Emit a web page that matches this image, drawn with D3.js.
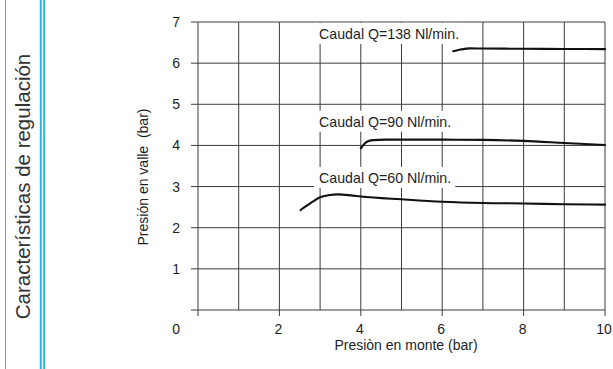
<!DOCTYPE html>
<html>
<head>
<meta charset="utf-8">
<script src="https://cdn.jsdelivr.net/npm/d3@7/dist/d3.min.js"></script>
<style>
  html, body { margin: 0; padding: 0; background: #fff; }
  svg { display: block; }
  text { font-family: "Liberation Sans", Arial, Helvetica, sans-serif; fill: #1e1e1e; }
</style>
</head>
<body>
<svg id="chart" width="613" height="369"></svg>
<script>
// Regulation characteristics: downstream pressure vs. upstream pressure
const sideTitle = "Características de regulación";
const xTitle = "Presiòn en monte (bar)";
const yTitle = "Presión en valle  (bar)";

const xTickLabels = [2, 4, 6, 8, 10];
const yTickLabels = [1, 2, 3, 4, 5, 6, 7];
const xGrid = [0, 1, 2, 3, 4, 5, 6, 7, 8, 9, 10];
const yGrid = [0, 1, 2, 3, 4, 5, 6, 7];

// Flow curves (upstream bar, downstream bar)
const q60X = [2.52, 2.8, 3.0, 3.2, 3.45, 3.8, 4.0, 5.0, 6.0, 7.0, 8.0, 9.0, 10.0];
const q60Y = [2.43, 2.62, 2.74, 2.79, 2.81, 2.78, 2.76, 2.69, 2.63, 2.60, 2.59, 2.57, 2.56];

const q90X = [4.0, 4.08, 4.15, 4.3, 4.6, 5.0, 6.0, 7.0, 8.0, 9.0, 10.0];
const q90Y = [3.93, 4.03, 4.09, 4.13, 4.14, 4.14, 4.14, 4.135, 4.11, 4.06, 4.01];

const q138X = [6.27, 6.45, 6.68, 7.0, 8.0, 9.0, 10.0];
const q138Y = [6.29, 6.33, 6.36, 6.355, 6.35, 6.345, 6.34];

const curveLabels = ["Caudal Q=138 Nl/min.", "Caudal Q=90 Nl/min.", "Caudal Q=60 Nl/min."];
const labelX = [3.0, 3.0, 3.0];
const labelY = [6.59, 4.455, 3.09];

const svg = d3.select("#chart");

// Side band with blue rules
const blue = "#2cb4e4";
svg.append("line").attr("x1", 5.5).attr("x2", 5.5).attr("y1", 0).attr("y2", 369)
  .attr("stroke", blue).attr("stroke-width", 1);
[40.8, 44.2].forEach(x => {
  svg.append("line").attr("x1", x).attr("x2", x).attr("y1", 0).attr("y2", 369)
    .attr("stroke", blue).attr("stroke-width", 2);
});
svg.append("text")
  .attr("transform", "translate(30,186.5) rotate(-90)")
  .attr("text-anchor", "middle")
  .style("font-size", "20.5px")
  .style("fill", "#333")
  .text(sideTitle);

// Scales
const x = d3.scaleLinear().domain([0, 10]).range([198, 605]);
const y = d3.scaleLinear().domain([0, 7]).range([310, 22]);

const gridColor = "#3c3c3c";
const grid = svg.append("g");

// Horizontal grid lines (extend a little left of the frame)
grid.selectAll("line.h").data(yGrid).join("line")
  .attr("class", "h")
  .attr("x1", x(0) - 7).attr("x2", x(10))
  .attr("y1", d => y(d)).attr("y2", d => y(d))
  .attr("stroke", gridColor).attr("stroke-width", 1);

// Vertical grid lines; labelled ones run down as ticks
grid.selectAll("line.v").data(xGrid).join("line")
  .attr("class", "v")
  .attr("x1", d => x(d)).attr("x2", d => x(d))
  .attr("y1", y(7))
  .attr("y2", d => (d % 2 === 0 ? y(0) + 6 : y(0)))
  .attr("stroke", gridColor).attr("stroke-width", 1);

// Curves
const line = d3.line().x(d => x(d[0])).y(d => y(d[1])).curve(d3.curveMonotoneX);
const series = [
  d3.zip(q138X, q138Y),
  d3.zip(q90X, q90Y),
  d3.zip(q60X, q60Y)
];

// Labels with white backing that interrupts the grid
const labelG = svg.append("g");
curveLabels.forEach((t, i) => {
  const g = labelG.append("g");
  const txt = g.append("text")
    .attr("x", x(labelX[i]) - 1)
    .attr("y", y(labelY[i]))
    .style("font-size", "14.2px")
    .text(t);
  const bb = txt.node().getBBox();
  g.insert("rect", "text")
    .attr("x", bb.x - 5).attr("y", y(labelY[i]) - 16)
    .attr("width", bb.width + 9).attr("height", 21)
    .attr("fill", "#fff");
});

svg.append("g").selectAll("path").data(series).join("path")
  .attr("d", line)
  .attr("fill", "none")
  .attr("stroke", "#111")
  .attr("stroke-width", 2.1)
  .attr("stroke-linecap", "round");

// Tick labels
svg.append("g").selectAll("text").data(yTickLabels).join("text")
  .attr("x", 180).attr("y", d => y(d) + 5)
  .attr("text-anchor", "end")
  .style("font-size", "14px")
  .text(d => d);

svg.append("g").selectAll("text").data(xTickLabels).join("text")
  .attr("x", d => x(d) - 1).attr("y", 334)
  .attr("text-anchor", "middle")
  .style("font-size", "14px")
  .text(d => d);

svg.append("text").attr("x", 180).attr("y", 334)
  .attr("text-anchor", "end").style("font-size", "14px").text(0);

// Axis titles
svg.append("text")
  .attr("x", 406).attr("y", 350)
  .attr("text-anchor", "middle")
  .style("font-size", "14px")
  .text(xTitle);

svg.append("text")
  .attr("transform", "translate(148,177) rotate(-90)")
  .attr("text-anchor", "middle")
  .style("font-size", "14px")
  .style("white-space", "pre")
  .text(yTitle);
</script>
</body>
</html>
